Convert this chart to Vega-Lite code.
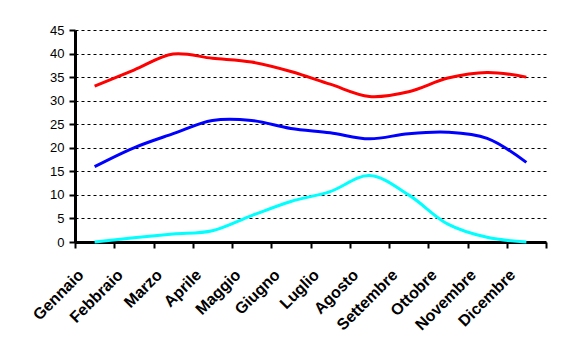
{
  "$schema": "https://vega.github.io/schema/vega-lite/v6.json",
  "autosize": "none",
  "width": 471,
  "height": 212,
  "padding": {"left": 75, "top": 30, "right": 17, "bottom": 120},
  "background": "white",
  "config": {
    "view": {"stroke": null},
    "font": "Liberation Sans"
  },
  "data": {
    "values": [
      {"mese": "Gennaio", "serie": "Serie1", "valore": 33.1},
      {"mese": "Febbraio", "serie": "Serie1", "valore": 36.5},
      {"mese": "Marzo", "serie": "Serie1", "valore": 39.9},
      {"mese": "Aprile", "serie": "Serie1", "valore": 39.0},
      {"mese": "Maggio", "serie": "Serie1", "valore": 38.2},
      {"mese": "Giugno", "serie": "Serie1", "valore": 36.2},
      {"mese": "Luglio", "serie": "Serie1", "valore": 33.5},
      {"mese": "Agosto", "serie": "Serie1", "valore": 30.9},
      {"mese": "Settembre", "serie": "Serie1", "valore": 31.9},
      {"mese": "Ottobre", "serie": "Serie1", "valore": 34.8},
      {"mese": "Novembre", "serie": "Serie1", "valore": 36.0},
      {"mese": "Dicembre", "serie": "Serie1", "valore": 35.0},
      {"mese": "Gennaio", "serie": "Serie2", "valore": 16.0},
      {"mese": "Febbraio", "serie": "Serie2", "valore": 20.0},
      {"mese": "Marzo", "serie": "Serie2", "valore": 23.0},
      {"mese": "Aprile", "serie": "Serie2", "valore": 25.8},
      {"mese": "Maggio", "serie": "Serie2", "valore": 25.8},
      {"mese": "Giugno", "serie": "Serie2", "valore": 24.1},
      {"mese": "Luglio", "serie": "Serie2", "valore": 23.2},
      {"mese": "Agosto", "serie": "Serie2", "valore": 21.9},
      {"mese": "Settembre", "serie": "Serie2", "valore": 23.0},
      {"mese": "Ottobre", "serie": "Serie2", "valore": 23.3},
      {"mese": "Novembre", "serie": "Serie2", "valore": 22.0},
      {"mese": "Dicembre", "serie": "Serie2", "valore": 16.9},
      {"mese": "Gennaio", "serie": "Serie3", "valore": 0.0},
      {"mese": "Febbraio", "serie": "Serie3", "valore": 0.9},
      {"mese": "Marzo", "serie": "Serie3", "valore": 1.7},
      {"mese": "Aprile", "serie": "Serie3", "valore": 2.4},
      {"mese": "Maggio", "serie": "Serie3", "valore": 5.6},
      {"mese": "Giugno", "serie": "Serie3", "valore": 8.6},
      {"mese": "Luglio", "serie": "Serie3", "valore": 10.7},
      {"mese": "Agosto", "serie": "Serie3", "valore": 14.1},
      {"mese": "Settembre", "serie": "Serie3", "valore": 10.0},
      {"mese": "Ottobre", "serie": "Serie3", "valore": 3.8},
      {"mese": "Novembre", "serie": "Serie3", "valore": 1.0},
      {"mese": "Dicembre", "serie": "Serie3", "valore": 0.0}
    ]
  },
  "mark": {"type": "line", "interpolate": "catmull-rom", "strokeWidth": 3, "clip": false},
  "encoding": {
    "x": {
      "field": "mese",
      "type": "ordinal",
      "sort": ["Gennaio", "Febbraio", "Marzo", "Aprile", "Maggio", "Giugno", "Luglio", "Agosto", "Settembre", "Ottobre", "Novembre", "Dicembre"],
      "bandPosition": 0.5,
      "scale": {"type": "band", "paddingInner": 0, "paddingOuter": 0},
      "axis": {
        "title": null,
        "tickBand": "extent",
        "grid": false,
        "domainColor": "black",
        "domainWidth": 3,
        "tickColor": "black",
        "tickWidth": 2,
        "tickSize": 6,
        "labelAngle": -45,
        "labelAlign": "right",
        "labelBaseline": "middle",
        "labelOffset": -14,
        "labelPadding": 24,
        "labelFont": "Liberation Sans",
        "labelFontSize": 16,
        "labelFontWeight": "bold",
        "labelColor": "black"
      }
    },
    "y": {
      "field": "valore",
      "type": "quantitative",
      "scale": {"domain": [0, 45], "nice": false},
      "axis": {
        "title": null,
        "values": [0, 5, 10, 15, 20, 25, 30, 35, 40, 45],
        "grid": true,
        "gridColor": "black",
        "gridDash": [3, 3],
        "gridWidth": 1,
        "domainColor": "black",
        "domainWidth": 3,
        "tickColor": "black",
        "tickWidth": 2,
        "tickSize": 6,
        "labelPadding": 5,
        "labelFont": "Liberation Sans",
        "labelFontSize": 13,
        "labelColor": "black"
      }
    },
    "color": {
      "field": "serie",
      "type": "nominal",
      "scale": {"domain": ["Serie1", "Serie2", "Serie3"], "range": ["#FF0000", "#0000FF", "#00FFFF"]},
      "legend": null
    }
  }
}
